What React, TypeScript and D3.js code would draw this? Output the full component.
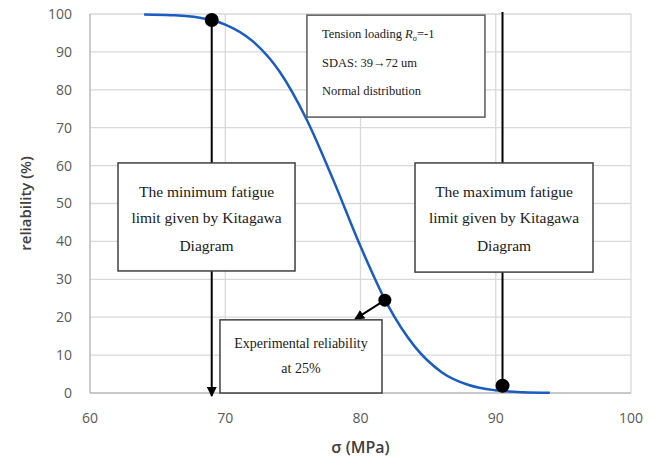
import * as d3 from "d3";

// reliability curve
const sigma = [64, 66, 68, 69, 70, 72, 74, 76, 78, 80, 82, 84, 86, 88, 90, 92, 94];
const reliability = [99.9, 99.7, 99.1, 98.4, 97.2, 92.9, 84.9, 72.3, 56.1, 38.7, 23.3, 12.3, 5.5, 2.1, 0.7, 0.2, 0.05];

// marked points: min Kitagawa limit, experimental 25 %, max Kitagawa limit
const markSigma = [69, 81.8, 90.5];
const markRel = [98.4, 24.5, 1.9];

const xTicks = [60, 70, 80, 90, 100];
const yTicks = [0, 10, 20, 30, 40, 50, 60, 70, 80, 90, 100];

const W = 661;
const H = 463;

export default function App() {
  const x = d3.scaleLinear().domain([60, 100]).range([90, 631]);
  const y = d3.scaleLinear().domain([0, 100]).range([393, 14]);

  const line = d3
    .line<number>()
    .x((d, i) => x(sigma[i]))
    .y((d) => y(d))
    .curve(d3.curveMonotoneX);

  const serif = "'Liberation Serif', 'DejaVu Serif', serif";
  const sans = "'Open Sans', 'Noto Sans', sans-serif";

  // box in data units -> pixel rect
  const box = (s0: number, s1: number, r0: number, r1: number) => ({
    x: x(s0),
    y: y(r0),
    w: x(s1) - x(s0),
    h: y(r1) - y(r0),
  });
  const b1 = box(76.04, 89.2, 99.7, 72.8);
  const b2 = box(62.07, 75.16, 60.7, 32.2);
  const b3 = box(84.03, 97.19, 60.7, 31.9);
  const b4 = box(69.61, 81.59, 19.3, 0);

  return (
    <svg
      width={W}
      height={H}
      style={{ position: "absolute", left: 0, top: 0, background: "#fff" }}
    >
      <defs>
        <marker id="arr" viewBox="0 0 10 10" refX="9" refY="5" markerWidth="5" markerHeight="5" orient="auto">
          <path d="M0,0 L10,5 L0,10 z" fill="#000" />
        </marker>
      </defs>

      {/* grid */}
      {yTicks.map((t) => (
        <line key={"gy" + t} x1={x(60)} x2={x(100)} y1={y(t)} y2={y(t)} stroke="#d9d9d9" strokeWidth={1.3} />
      ))}
      {xTicks.map((t) => (
        <line key={"gx" + t} x1={x(t)} x2={x(t)} y1={y(0)} y2={y(100)} stroke="#d9d9d9" strokeWidth={1.3} />
      ))}
      <line x1={x(60)} x2={x(100)} y1={y(0)} y2={y(0)} stroke="#bfbfbf" strokeWidth={1.3} />
      <line x1={x(60)} x2={x(60)} y1={y(0)} y2={y(100)} stroke="#bfbfbf" strokeWidth={1.3} />

      {/* tick labels */}
      {yTicks.map((t) => (
        <text key={"ty" + t} x={72} y={y(t)} dy="0.35em" textAnchor="end" fontFamily={sans} fontSize={14} fill="#595959">
          {t}
        </text>
      ))}
      {xTicks.map((t) => (
        <text key={"tx" + t} x={x(t)} y={418} dy="0.35em" textAnchor="middle" fontFamily={sans} fontSize={14} fill="#595959">
          {t}
        </text>
      ))}

      {/* axis titles */}
      <text
        transform={`translate(26,${(y(0) + y(100)) / 2}) rotate(-90)`}
        textAnchor="middle"
        dy="0.35em"
        fontFamily={sans}
        fontSize={15}
        fontWeight={600}
        fill="#404040"
      >
        reliability (%)
      </text>
      <text x={(x(60) + x(100)) / 2} y={447} dy="0.35em" textAnchor="middle" fontFamily={sans} fontSize={16} fontWeight={600} fill="#404040">
        σ (MPa)
      </text>

      {/* vertical limit lines */}
      <line
        x1={x(markSigma[0])}
        x2={x(markSigma[0])}
        y1={y(markRel[0])}
        y2={y(0) + 3}
        stroke="#000"
        strokeWidth={2}
        markerEnd="url(#arr)"
      />
      <line x1={x(markSigma[2])} x2={x(markSigma[2])} y1={y(markRel[2])} y2={y(100.5)} stroke="#000" strokeWidth={2} />

      {/* curve */}
      <path d={line(reliability) || ""} fill="none" stroke="#1a5cc0" strokeWidth={2.5} />

      {/* experimental arrow */}
      <line
        x1={x(markSigma[1])}
        y1={y(markRel[1])}
        x2={x(79.6)}
        y2={y(19.5)}
        stroke="#000"
        strokeWidth={2}
        markerEnd="url(#arr)"
      />

      {markSigma.map((s, i) => (
        <circle key={"m" + i} cx={x(s)} cy={y(markRel[i])} r={i === 1 ? 6.5 : 7} fill="#000" />
      ))}

      {/* text boxes */}
      <rect x={b1.x} y={b1.y} width={b1.w} height={b1.h} fill="#fff" stroke="#595959" strokeWidth={1.5} />
      <g fontFamily={serif} fontSize={12.5} fill="#1a1a1a">
        <text x={b1.x + 15} y={b1.y + 18} dy="0.35em">
          Tension loading <tspan fontStyle="italic">R</tspan>
          <tspan fontSize={8} dy="3">σ</tspan>
          <tspan dy="-3">=-1</tspan>
        </text>
        <text x={b1.x + 15} y={b1.y + 47} dy="0.35em">SDAS: 39→72 um</text>
        <text x={b1.x + 15} y={b1.y + 75} dy="0.35em">Normal distribution</text>
      </g>

      {[b2, b3].map((b, i) => (
        <g key={"kb" + i}>
          <rect x={b.x} y={b.y} width={b.w} height={b.h} fill="#fff" stroke="#404040" strokeWidth={1.5} />
          <g fontFamily={serif} fontSize={15.5} fill="#1a1a1a" textAnchor="middle">
            <text x={b.x + b.w / 2} y={b.y + 29} dy="0.35em">
              {i === 0 ? "The minimum fatigue" : "The maximum fatigue"}
            </text>
            <text x={b.x + b.w / 2} y={b.y + 55} dy="0.35em">limit given by Kitagawa</text>
            <text x={b.x + b.w / 2} y={b.y + 83} dy="0.35em">Diagram</text>
          </g>
        </g>
      ))}

      <rect x={b4.x} y={b4.y} width={b4.w} height={b4.h} fill="#fff" stroke="#404040" strokeWidth={1.5} />
      <g fontFamily={serif} fontSize={14} fill="#1a1a1a" textAnchor="middle">
        <text x={b4.x + b4.w / 2} y={b4.y + 23} dy="0.35em">Experimental reliability</text>
        <text x={b4.x + b4.w / 2} y={b4.y + 48} dy="0.35em">at 25%</text>
      </g>
    </svg>
  );
}
